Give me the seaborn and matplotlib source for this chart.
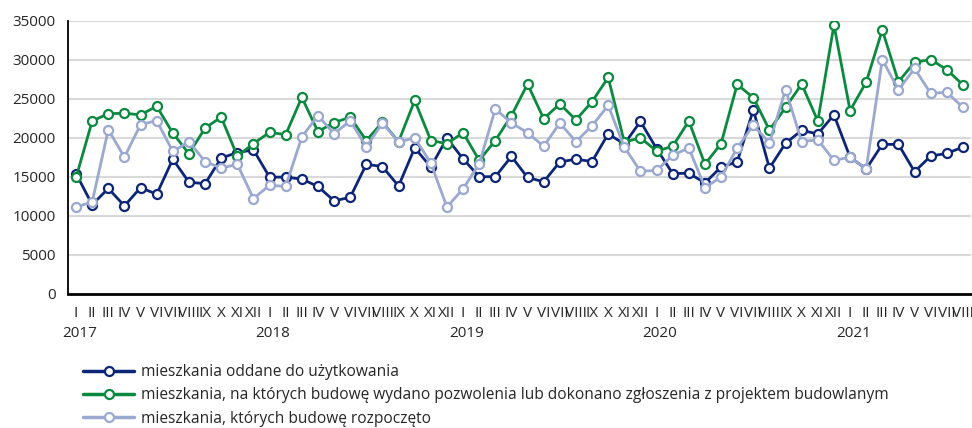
import matplotlib
matplotlib.use("Agg")
import matplotlib.pyplot as plt
import matplotlib.transforms as mtransforms
from matplotlib.lines import Line2D
import seaborn as sns
import pandas as pd

# monthly data, I 2017 - VIII 2021
months = ["I", "II", "III", "IV", "V", "VI", "VII", "VIII", "IX", "X", "XI", "XII"]
years = ["2017", "2018", "2019", "2020", "2021"]
n_months = 56

oddane = [15400, 11400, 13500, 11250, 13600, 12750, 17250, 14300, 14100, 17400, 18100, 18450,
          14950, 14950, 14700, 13750, 11900, 12350, 16600, 16300, 13800, 18700, 16250, 19950,
          17300, 15000, 15000, 17600, 14900, 14350, 16900, 17250, 16950, 20500, 19200, 22100,
          18600, 15400, 15450, 14200, 16250, 16900, 23600, 16100, 19300, 20950, 20500, 22950,
          17500, 16000, 19150, 19150, 15650, 17650, 18000, 18800]
pozwolenia = [14900, 22150, 23100, 23150, 22950, 24050, 20600, 17950, 21250, 22650, 17650, 19250,
              20700, 20400, 25200, 20800, 21950, 22650, 19650, 22000, 19500, 24800, 19650, 19250,
              20650, 17100, 19650, 22850, 26900, 22450, 24350, 22300, 24650, 27750, 19450, 20000,
              18300, 18900, 22150, 16600, 19250, 26850, 25150, 21000, 23900, 26900, 22150, 34500,
              23500, 27150, 33850, 27200, 29700, 30050, 28750, 26800]
rozpoczete = [11100, 11750, 21050, 17500, 21700, 22200, 18250, 19500, 16950, 16100, 16600, 12200,
              13900, 13750, 20100, 22850, 20500, 22200, 18800, 21900, 19450, 20000, 16750, 11100,
              13450, 16650, 23700, 21900, 20650, 18900, 21900, 19500, 21550, 24150, 18800, 15700,
              15800, 17750, 18700, 13600, 14950, 18700, 21600, 19350, 26200, 19500, 19750, 17100,
              17500, 16000, 30050, 26150, 28900, 25700, 25850, 23900]

labels = ["mieszkania oddane do użytkowania",
          "mieszkania, na których budowę wydano pozwolenia lub dokonano zgłoszenia z projektem budowlanym",
          "mieszkania, których budowę rozpoczęto"]
colors = ["#0c2577", "#0b8a3f", "#9ba8cf"]

idx = list(range(n_months))
df = pd.concat([
    pd.DataFrame({"idx": idx, "value": oddane, "series": labels[0]}),
    pd.DataFrame({"idx": idx, "value": pozwolenia, "series": labels[1]}),
    pd.DataFrame({"idx": idx, "value": rozpoczete, "series": labels[2]}),
])

sns.set_style("white")
plt.rcParams["font.family"] = ["Open Sans", "DejaVu Sans"]

fig = plt.figure(figsize=(9.72, 4.28), dpi=100)
ax = fig.add_axes([68 / 972, 1 - 293.5 / 428, 903 / 972, (293.5 - 21) / 428])

for lab, col in zip(labels, colors):
    sub = df[df["series"] == lab]
    sns.lineplot(data=sub, x="idx", y="value", ax=ax, color=col, linewidth=2.0,
                 marker="o", markersize=6.5, markerfacecolor="white",
                 markeredgecolor=col, markeredgewidth=1.6, legend=False)

ax.set_xlim(-0.5, n_months - 0.5)
ax.set_ylim(0, 35000)
ax.set_yticks(range(0, 35001, 5000))
ax.set_yticklabels([str(v) for v in range(0, 35001, 5000)], fontsize=11)
ax.yaxis.grid(True, color="#d9d9d9", linewidth=1.5)
ax.set_axisbelow(True)

ax.set_xticks(idx)
ax.set_xticklabels([months[i % 12] for i in idx], fontsize=11)
ax.tick_params(axis="x", length=0, pad=9)
ax.tick_params(axis="y", length=5, width=1, color="black", direction="out", pad=4)
ax.set_xlabel("")
ax.set_ylabel("")

for side in ["top", "right"]:
    ax.spines[side].set_visible(False)
ax.spines["left"].set_color("black")
ax.spines["left"].set_linewidth(1.3)
ax.spines["bottom"].set_color("black")
ax.spines["bottom"].set_linewidth(2)

trans = mtransforms.blended_transform_factory(ax.transData, ax.transAxes)
for k, yr in enumerate(years):
    ax.text(k * 12 + 0.2, -0.145, yr, transform=trans, ha="center", va="center", fontsize=11)

handles = [Line2D([0], [0], color=c, linewidth=2.5, marker="o", markersize=6.5,
                  markerfacecolor="white", markeredgecolor=c, markeredgewidth=1.6)
           for c in colors]
fig.legend(handles, labels, loc="upper left", bbox_to_anchor=(83 / 972, 1 - 364 / 428),
           frameon=False, fontsize=11.2, handlelength=3.3, handletextpad=0.4,
           labelspacing=0.48, borderpad=0, borderaxespad=0)

fig.savefig("out.png", dpi=100)
plt.close(fig)
